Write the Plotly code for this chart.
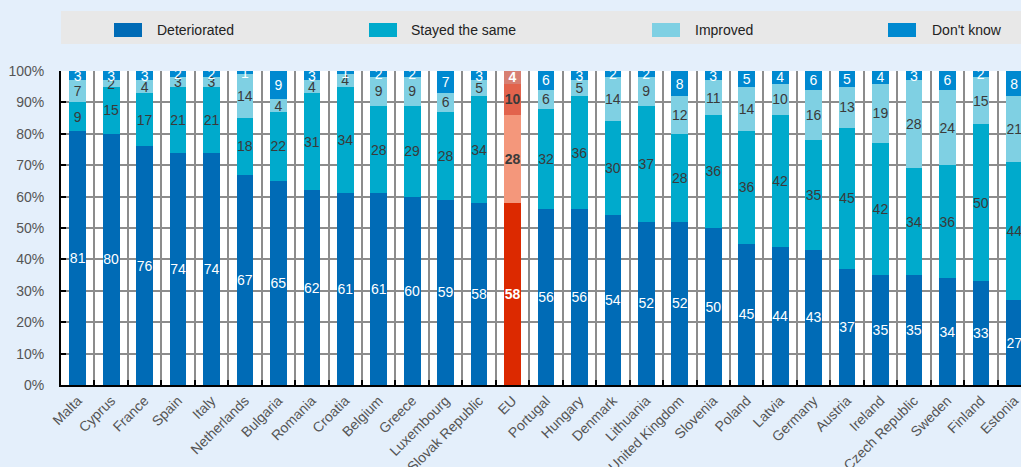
import plotly.graph_objects as go

countries = ["Malta", "Cyprus", "France", "Spain", "Italy", "Netherlands", "Bulgaria", "Romania",
             "Croatia", "Belgium", "Greece", "Luxembourg", "Slovak Republic", "EU", "Portugal",
             "Hungary", "Denmark", "Lithuania", "United Kingdom", "Slovenia", "Poland", "Latvia",
             "Germany", "Austria", "Ireland", "Czech Republic", "Sweden", "Finland", "Estonia"]
deteriorated = [81, 80, 76, 74, 74, 67, 65, 62, 61, 61, 60, 59, 58, 58, 56, 56, 54, 52, 52, 50,
                45, 44, 43, 37, 35, 35, 34, 33, 27]
stayed_same = [9, 15, 17, 21, 21, 18, 22, 31, 34, 28, 29, 28, 34, 28, 32, 36, 30, 37, 28, 36,
               36, 42, 35, 45, 42, 34, 36, 50, 44]
improved = [7, 2, 4, 3, 3, 14, 4, 4, 4, 9, 9, 6, 5, 10, 6, 5, 14, 9, 12, 11,
            14, 10, 16, 13, 19, 28, 24, 15, 21]
dont_know = [3, 3, 3, 2, 2, 1, 9, 3, 1, 2, 2, 7, 3, 4, 6, 3, 2, 2, 8, 3,
             5, 4, 6, 5, 4, 3, 6, 2, 8]
y_ticks = list(range(0, 101, 10))
y_tick_labels = [f"{v}%" for v in y_ticks]

FONT = "Liberation Sans Narrow, Arial Narrow, Liberation Sans, Arial, sans-serif"
highlight = "EU"

series = [
    ("Deteriorated", deteriorated, "#006BB6", "#DC2900", "white", "white"),
    ("Stayed the same", stayed_same, "#00AACC", "#F4977B", "#3a3a3a", "#3a3a3a"),
    ("Improved", improved, "#7FD0E3", "#E2634C", "#3a3a3a", "#3a3a3a"),
    ("Don't know", dont_know, "#0089D0", "#D77F72", "white", "white"),
]

fig = go.Figure()
for name, vals, col, eucol, tcol, eutcol in series:
    colors = [eucol if c == highlight else col for c in countries]
    tcolors = [eutcol if c == highlight else tcol for c in countries]
    texts = [f"<b>{v}</b>" if c == highlight else str(v) for c, v in zip(countries, vals)]
    fig.add_trace(go.Bar(
        name=name, x=countries, y=vals, width=0.5,
        marker=dict(color=colors, line=dict(width=0)),
        text=texts, texttemplate="%{text}",
        textposition="inside", insidetextanchor="middle", textangle=0,
        textfont=dict(family=FONT, size=14, color=tcolors),
        showlegend=False,
    ))

W, H = 1021, 467
L, R, T, B = 61, 0, 71, 82
pw, ph = W - L - R, H - T - B

def px_x(x):
    return (x - L) / pw

def px_y(y):
    return (H - B - y) / ph

shapes = [dict(type="rect", xref="paper", yref="paper", x0=px_x(61), x1=px_x(1021),
               y0=px_y(44), y1=px_y(11), fillcolor="#E8E8E8", line=dict(width=0), layer="below")]
annotations = []
legend_pos = [(114, 155), (369, 409), (652, 693), (888, 930)]
for (name, vals, col, eucol, tcol, eutcol), (sx, tx) in zip(series, legend_pos):
    shapes.append(dict(type="rect", xref="paper", yref="paper", x0=px_x(sx), x1=px_x(sx + 28),
                       y0=px_y(37), y1=px_y(23), fillcolor=col, line=dict(width=0)))
    annotations.append(dict(text=name, xref="paper", yref="paper", x=px_x(tx), y=px_y(30),
                            xanchor="left", yanchor="middle", showarrow=False,
                            font=dict(family=FONT, size=14, color="#222222")))

fig.update_layout(
    width=W, height=H,
    margin=dict(l=L, r=R, t=T, b=B, pad=0, autoexpand=False),
    barmode="stack",
    paper_bgcolor="#E4EFFB",
    plot_bgcolor="white",
    uniformtext=dict(minsize=14, mode="show"),
    shapes=shapes,
    annotations=annotations,
    showlegend=False,
    font=dict(family=FONT, size=14, color="#555555"),
)
fig.update_xaxes(
    type="category", range=[-0.5, 28.2], automargin=False,
    tickson="boundaries", ticks="inside", ticklen=5, tickwidth=2, tickcolor="black",
    showgrid=True, gridcolor="#8C8C8C", gridwidth=2,
    showline=True, linecolor="black", linewidth=2,
    tickangle=-45, tickfont=dict(family=FONT, size=14, color="#555555"),
)
fig.update_yaxes(
    range=[0, 100], tickvals=y_ticks, ticktext=y_tick_labels, automargin=False,
    ticks="inside", ticklen=5, tickwidth=2, tickcolor="black", ticklabelstandoff=12,
    showgrid=True, gridcolor="#8C8C8C", gridwidth=2,
    showline=True, linecolor="black", linewidth=2, zeroline=False,
    tickfont=dict(family=FONT, size=14, color="#555555"),
)

fig.write_html("out.html", config={"displayModeBar": False},
               post_script="document.body.style.margin='0';document.body.style.overflow='hidden';")
